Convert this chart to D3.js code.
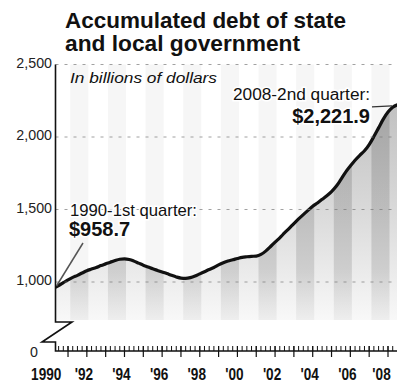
<!DOCTYPE html>
<html>
<head>
<meta charset="utf-8">
<script src="https://cdn.jsdelivr.net/npm/d3@7"></script>
<style>
  body { margin: 0; background: #fff; }
  svg { display: block; }
  text { font-family: "Liberation Sans", Arial, sans-serif; fill: #111; }
</style>
</head>
<body>
<svg id="chart" width="397" height="388"></svg>
<script>
// Accumulated debt of state and local government, billions of dollars, quarterly
const firstYear = 1990;
const debtByQuarter = [
  958.7, 975, 995, 1015,      // 1990
  1032, 1046, 1062, 1078,     // 1991
  1089, 1100, 1113, 1125,     // 1992
  1137, 1148, 1157, 1160,     // 1993
  1155, 1144, 1130, 1116,     // 1994
  1104, 1091, 1080, 1069,     // 1995
  1058, 1046, 1035, 1027,     // 1996
  1025, 1030, 1041, 1056,     // 1997
  1071, 1086, 1100, 1118,     // 1998
  1133, 1145, 1153, 1162,     // 1999
  1170, 1174, 1177, 1179,     // 2000
  1190, 1213, 1243, 1275,     // 2001
  1305, 1338, 1370, 1403,     // 2002
  1435, 1465, 1494, 1522,     // 2003
  1545, 1570, 1595, 1624,     // 2004
  1660, 1708, 1758, 1800,     // 2005
  1840, 1874, 1905, 1948,     // 2006
  2003, 2063, 2123, 2172,     // 2007
  2205, 2221.9                // 2008 (Q1, Q2)
];

const yTickValues = [0, 1000, 1500, 2000, 2500];
const yTickLabels = ["0", "1,000", "1,500", "2,000", "2,500"];
const gridValues = [1000, 1500, 2000, 2500];
const xLabelYears = [1990, 1992, 1994, 1996, 1998, 2000, 2002, 2004, 2006, 2008];
const xLabels = ["1990", "'92", "'94", "'96", "'98", "'00", "'02", "'04", "'06", "'08"];
const shadedYears = [1991, 1993, 1995, 1997, 1999, 2001, 2003, 2005, 2007];

const titleLines = ["Accumulated debt of state", "and local government"];
const subtitle = "In billions of dollars";
const startNote = { period: "1990-1st quarter:", value: "$958.7" };
const endNote = { period: "2008-2nd quarter:", value: "$2,221.9" };

// quarter-end time stamps for each reading
const points = debtByQuarter.map((v, i) => ({ t: firstYear + (i + 1) / 4, v }));

const W = 397, H = 388;
const axisX = 55.5, baseY = 351, breakY = 322, areaBottom = 320;

const svg = d3.select("#chart");

const x = d3.scaleLinear().domain([1990, 2008]).range([49.2, 388]);
// broken value axis: zero sits on the baseline, the plotted band starts near 800
const y = d3.scaleLinear().domain([0, 800, 2500]).range([baseY, 311, 64.5]);

const defs = svg.append("defs");
defs.append("clipPath").attr("id", "plotClip")
  .append("rect").attr("x", axisX).attr("y", 0).attr("width", W - axisX).attr("height", H);

const grad = defs.append("linearGradient").attr("id", "areaFill")
  .attr("gradientUnits", "userSpaceOnUse")
  .attr("x1", 0).attr("x2", 0).attr("y1", y(2500)).attr("y2", areaBottom);
grad.append("stop").attr("offset", 0).attr("stop-color", "#b8b8b8");
grad.append("stop").attr("offset", 0.55).attr("stop-color", "#d8d8d8");
grad.append("stop").attr("offset", 1).attr("stop-color", "#f8f8f8");

const bandGrad = defs.append("linearGradient").attr("id", "bandFill")
  .attr("gradientUnits", "userSpaceOnUse")
  .attr("x1", 0).attr("x2", 0).attr("y1", y(2500)).attr("y2", areaBottom);
bandGrad.append("stop").attr("offset", 0).attr("stop-color", "#000").attr("stop-opacity", 0.16);
bandGrad.append("stop").attr("offset", 0.8).attr("stop-color", "#000").attr("stop-opacity", 0.12);
bandGrad.append("stop").attr("offset", 1).attr("stop-color", "#000").attr("stop-opacity", 0.04);

const area = d3.area()
  .x(d => x(d.t)).y0(areaBottom).y1(d => y(d.v))
  .curve(d3.curveMonotoneX);
const line = d3.line()
  .x(d => x(d.t)).y(d => y(d.v))
  .curve(d3.curveMonotoneX);

defs.append("clipPath").attr("id", "areaClip")
  .append("path").attr("d", area(points));

const plot = svg.append("g").attr("clip-path", "url(#plotClip)");

// faint alternating year columns
plot.append("g").selectAll("rect").data(shadedYears).join("rect")
  .attr("x", d => x(d + 0.12))
  .attr("width", d => x(d + 1.08) - x(d + 0.12))
  .attr("y", y(2500))
  .attr("height", areaBottom - y(2500))
  .attr("fill", "#f6f6f6");

// area under the curve
plot.append("path").attr("d", area(points)).attr("fill", "url(#areaFill)");

// darker year columns inside the area
plot.append("g").attr("clip-path", "url(#areaClip)")
  .selectAll("rect").data(shadedYears).join("rect")
  .attr("x", d => x(d + 0.12))
  .attr("width", d => x(d + 1.08) - x(d + 0.12))
  .attr("y", y(2500))
  .attr("height", areaBottom - y(2500))
  .attr("fill", "url(#bandFill)");

// dashed gridlines
svg.append("g").selectAll("line").data(gridValues).join("line")
  .attr("x1", axisX).attr("x2", W)
  .attr("y1", d => y(d)).attr("y2", d => y(d))
  .attr("stroke", "#7a7a7a").attr("stroke-width", 1)
  .attr("stroke-dasharray", "3,6").attr("opacity", 0.7);

// debt line
plot.append("path").attr("d", line(points))
  .attr("fill", "none").attr("stroke", "#111")
  .attr("stroke-width", 3.2).attr("stroke-linejoin", "round");

// axes with the break symbol
svg.append("path")
  .attr("d", `M${axisX},${y(2500)}V${breakY}H72L42,342H${axisX}V${baseY}H${W}`)
  .attr("fill", "none").attr("stroke", "#111").attr("stroke-width", 1.6);

// quarterly minor ticks
const quarterTicks = d3.range(1, (2008.5 - 1990) * 4 + 1).map(k => 1990 + k / 4)
  .filter(t => x(t) > axisX + 1 && x(t) < W);
svg.append("g").selectAll("line").data(quarterTicks).join("line")
  .attr("x1", d => x(d)).attr("x2", d => x(d))
  .attr("y1", baseY).attr("y2", baseY - 5)
  .attr("stroke", "#111").attr("stroke-width", 1);

// yearly major ticks
const yearTicks = d3.range(1991, 2009);
svg.append("g").selectAll("line").data(yearTicks).join("line")
  .attr("x1", d => x(d)).attr("x2", d => x(d))
  .attr("y1", baseY - 5).attr("y2", baseY + 6)
  .attr("stroke", "#111").attr("stroke-width", 1.2);

// condense text horizontally to a ratio of its natural width
function condense(sel, ratio) {
  sel.each(function () {
    const w = this.getComputedTextLength();
    this.__natural = w;
    d3.select(this).attr("textLength", w * ratio).attr("lengthAdjust", "spacingAndGlyphs");
  });
}

// year labels, kept inside the right edge
svg.append("g").selectAll("text").data(xLabelYears).join("text")
  .attr("x", d => x(d) - 3)
  .attr("y", 380)
  .attr("text-anchor", "middle")
  .attr("font-size", 17).attr("font-weight", "bold")
  .text((d, i) => xLabels[i])
  .call(condense, 0.8)
  .each(function (d) {
    const half = this.__natural / 2;
    const cx = Math.min(x(d) - 3, W - 4 - half);
    d3.select(this).attr("x", cx);
  });

// value labels
svg.append("g").selectAll("text").data(yTickValues).join("text")
  .attr("x", d => d === 0 ? 38 : 52)
  .attr("y", d => d === 0 ? y(d) + 6 : y(d) + 3)
  .attr("text-anchor", "end")
  .attr("font-size", 15)
  .style("fill", "#222")
  .text((d, i) => yTickLabels[i])
  .call(condense, 0.95);

// title
svg.append("g").selectAll("text").data(titleLines).join("text")
  .attr("x", 65).attr("y", (d, i) => 28 + i * 23)
  .attr("font-size", 22).attr("font-weight", "bold")
  .attr("textLength", (d, i) => [281, 235][i])
  .attr("lengthAdjust", "spacingAndGlyphs")
  .text(d => d);

svg.append("text")
  .attr("x", 70).attr("y", 83)
  .attr("font-size", 15).attr("font-style", "italic")
  .attr("textLength", 147).attr("lengthAdjust", "spacingAndGlyphs")
  .text(subtitle);

// start annotation
const p0 = points[0];
svg.append("line")
  .attr("x1", 83).attr("y1", 243)
  .attr("x2", Math.max(x(p0.t), axisX + 1)).attr("y2", y(p0.v) - 2)
  .attr("stroke", "#555").attr("stroke-width", 1.5);
svg.append("text")
  .attr("x", 70).attr("y", 216)
  .attr("font-size", 17)
  .attr("textLength", 127).attr("lengthAdjust", "spacingAndGlyphs")
  .attr("stroke", "#fff").attr("stroke-width", 3).attr("paint-order", "stroke")
  .text(startNote.period);
svg.append("text")
  .attr("x", 69).attr("y", 236)
  .attr("font-size", 20).attr("font-weight", "bold")
  .attr("stroke", "#fff").attr("stroke-width", 3).attr("paint-order", "stroke")
  .text(startNote.value);

// end annotation
const pN = points[points.length - 1];
svg.append("line")
  .attr("x1", 372).attr("y1", y(pN.v) + 2)
  .attr("x2", 392).attr("y2", y(pN.v) + 1)
  .attr("stroke", "#333").attr("stroke-width", 1.3);
svg.append("text")
  .attr("x", 370).attr("y", 100)
  .attr("text-anchor", "end")
  .attr("font-size", 16)
  .attr("textLength", 137).attr("lengthAdjust", "spacingAndGlyphs")
  .attr("stroke", "#fff").attr("stroke-width", 3).attr("paint-order", "stroke")
  .text(endNote.period);
svg.append("text")
  .attr("x", 370).attr("y", 123)
  .attr("text-anchor", "end")
  .attr("font-size", 20).attr("font-weight", "bold")
  .attr("stroke", "#fff").attr("stroke-width", 3).attr("paint-order", "stroke")
  .text(endNote.value);
</script>
</body>
</html>
